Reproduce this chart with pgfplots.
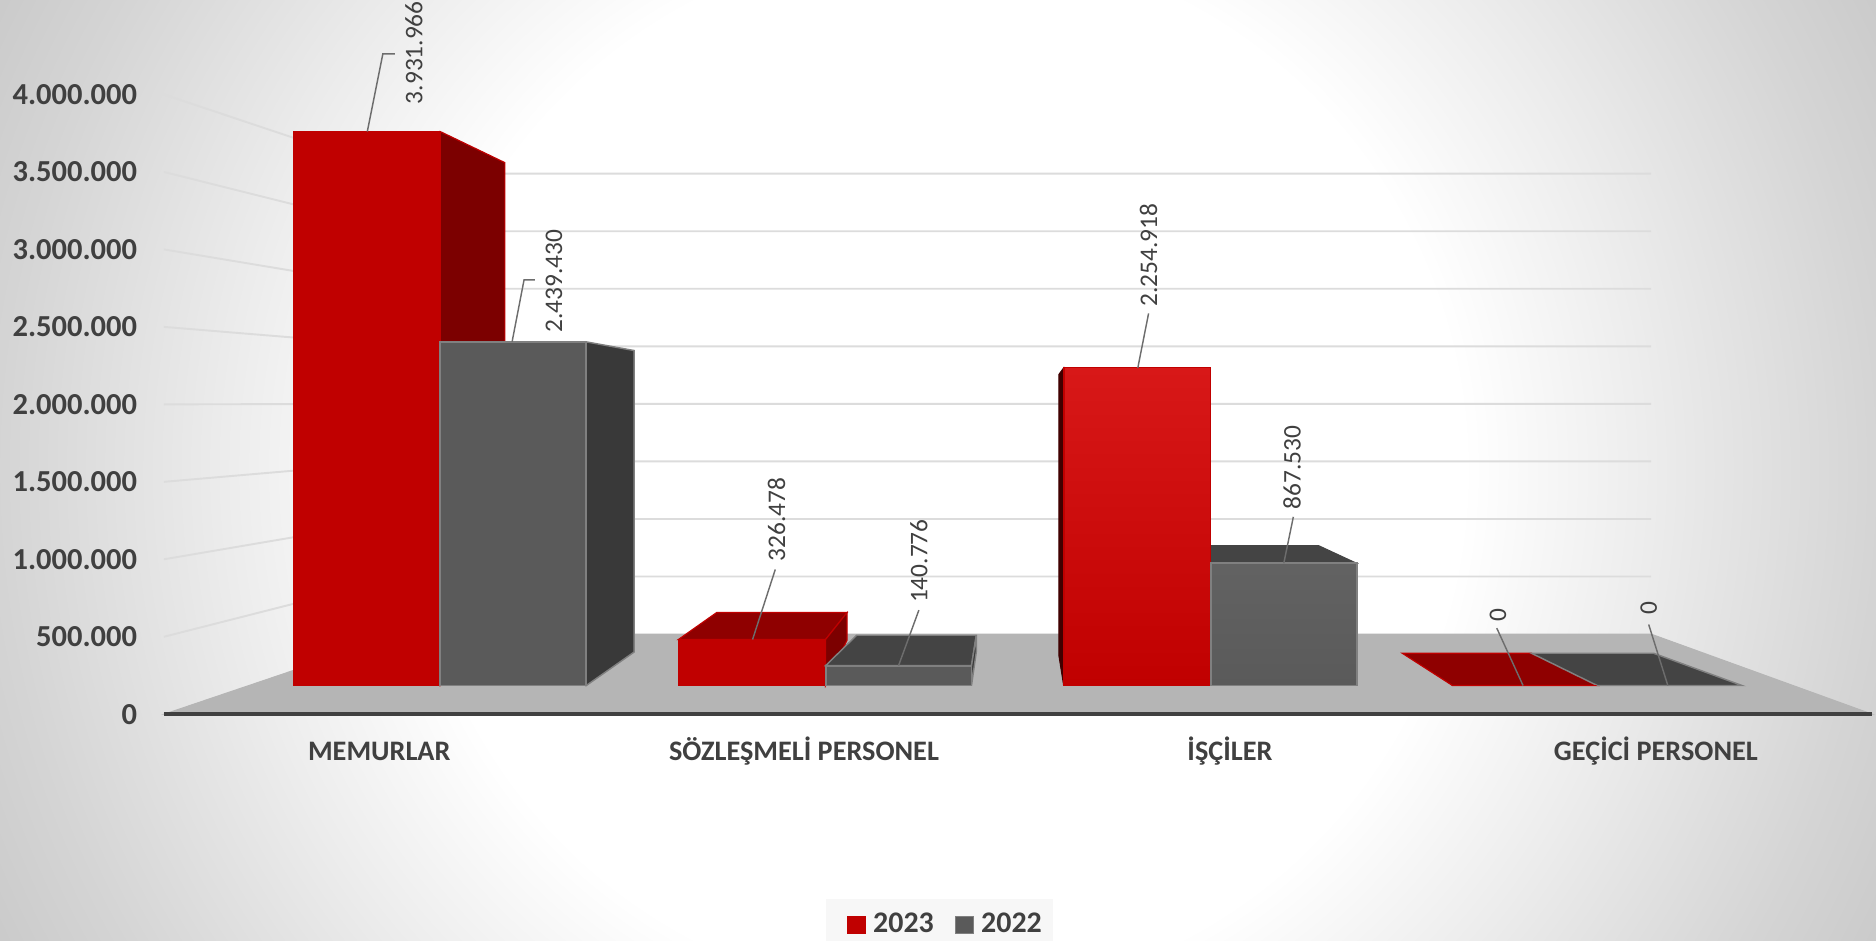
\documentclass[border=0pt]{standalone}
\usepackage{pgfplots}
\pgfplotsset{compat=1.18}
\usepackage{fontspec}
\setmainfont{Carlito}

\definecolor{txt}{HTML}{404040}
\definecolor{red23}{HTML}{C00000}
\definecolor{redhi}{HTML}{D81818}
\definecolor{redtop}{HTML}{8F0000}
\definecolor{redside}{HTML}{7C0000}
\definecolor{gray22}{HTML}{5A5A5A}
\definecolor{graytop}{HTML}{444444}
\definecolor{grayside}{HTML}{393939}
\definecolor{grayedge}{HTML}{808080}
\definecolor{gridc}{HTML}{DCDCDC}
\definecolor{floorc}{HTML}{B5B5B5}

\pgfdeclareradialshading{pagebg}{\pgfpoint{0bp}{0bp}}{
  color(0bp)=(white); color(14bp)=(white); color(19bp)=(rgb:white,100;black,8);
  color(25bp)=(rgb:white,100;black,20); color(29bp)=(rgb:white,100;black,28); color(35bp)=(rgb:white,100;black,28)}

\pgfplotsset{
  chartbox/.style={
    at={(68.5pt,94.35pt)}, anchor=south west,
    scale only axis, width=714pt, height=259pt,
    xmin=137, xmax=1565, clip=false,
  },
  face/.style={forget plot, fill=#1, draw=#1, line width=0.4pt},
  redface/.style={forget plot, fill=#1, draw=red23, line width=0.5pt},
  grayface/.style={forget plot, fill=#1, draw=grayedge, line width=0.6pt},
  bar23/.style={forget plot, ybar, bar shift=0pt, bar width=61.25pt, fill=red23, draw=red23, line width=0.5pt},
  bar22/.style={forget plot, ybar, bar shift=0pt, bar width=61pt, fill=gray22, draw=grayedge, line width=0.8pt},
  leader/.style={forget plot, draw=grayedge!85!black, line width=0.6pt},
}

\begin{document}
\begin{tikzpicture}
\useasboundingbox (0,0) rectangle (784pt,392.84pt);
\clip (0,0) rectangle (784pt,392.84pt);
\shade[shading=pagebg] (0pt,-195.58pt) rectangle (784pt,588.42pt);

% floor, wall grid and the real value scale
\begin{axis}[
  chartbox,
  ymin=0, ymax=4000000,
  axis on top,
  axis x line=bottom, axis y line=left,
  x axis line style={draw=txt, line width=1.5pt, -},
  y axis line style={draw=none},
  major tick length=0pt,
  ytick={0,500000,...,4000000},
  scaled y ticks=false,
  /pgf/number format/.cd, fixed, precision=0, 1000 sep={.}, assume math mode=true,
  /pgfplots/.cd,
  yticklabel style={font=\fontsize{12.75}{14}\selectfont\bfseries, text=txt, anchor=east, inner sep=0pt, xshift=-11pt},
  xtick={317,672,1028,1384},
  xticklabels={MEMURLAR,SÖZLEŞMELİ PERSONEL,İŞÇİLER,GEÇİCİ PERSONEL},
  xticklabel style={font=\fontsize{11.8}{13}\selectfont\bfseries, text=txt, anchor=center, yshift=-15.5pt},
]
\addplot[face=floorc] coordinates {(137,0) (335,517375) (1380,517375) (1565,0)} --cycle;
\addplot[forget plot, draw=gridc, line width=0.8pt, unbounded coords=jump] table {
x y
137 4000000
335 3488807
1380 3488807
nan nan
137 3500000
335 3117378
1380 3117378
nan nan
137 3000000
335 2745949
1380 2745949
nan nan
137 2500000
335 2374520
1380 2374520
nan nan
137 2000000
335 2003091
1380 2003091
nan nan
137 1500000
335 1631662
1380 1631662
nan nan
137 1000000
335 1260233
1380 1260233
nan nan
137 500000
335 888804
1380 888804
};
\end{axis}

% bars: front faces carry the values, y is measured from the bars' own base
\begin{axis}[
  chartbox,
  ymin=-203822, ymax=4195329,
  hide axis,
  legend style={at={(0.4538,-0.340)}, anchor=center, draw=none, fill=white!97!black,
    legend columns=2, font=\fontsize{12.5}{14}\selectfont\bfseries, text=txt,
    /tikz/every even column/.style={column sep=0.5pt}, inner xsep=2.5pt, inner ysep=4pt},
  legend image code/.code={\path (-6.5pt,0pt) (8.4pt,0pt);\fill[#1] (0pt,-3.7pt) rectangle (7.4pt,3.7pt);\draw[#1] (0pt,-3.7pt) rectangle (7.4pt,3.7pt);},
]
\addlegendimage{fill=red23, draw=red23}
\addlegendentry{2023}
\addlegendimage{fill=gray22, draw=grayedge}
\addlegendentry{2022}

% MEMURLAR
\addplot[redface=redside] coordinates {(368,3931966) (422,3711266) (422,365182) (368,0)} --cycle;
\addplot[bar23] coordinates {(306.5,3931966)};
\addplot[grayface=grayside] coordinates {(490,2439430) (530,2377928) (530,237793) (490,0)} --cycle;
\addplot[bar22] coordinates {(428.5,2439430)};
% SOZLESMELI PERSONEL
\addplot[redface=redtop] coordinates {(567,326478) (599,518049) (708,518049) (690,326478)} --cycle;
\addplot[redface=redside] coordinates {(690,326478) (708,518049) (708,322719) (690,0)} --cycle;
\addplot[bar23] coordinates {(628.5,326478)};
\addplot[grayface=graytop] coordinates {(690,140776) (716,356689) (816,356689) (812,140776)} --cycle;
\addplot[grayface=grayside] coordinates {(812,140776) (816,356689) (816,237793) (812,0)} --cycle;
\addplot[bar22] coordinates {(751,140776)};
% ISCILER
\addplot[face=graytop] coordinates {(1012,867530) (1012,993634) (1102,993634) (1134,867530)} --cycle;
\addplot[face=black!75!red] coordinates {(889,2254918) (885,2208076) (885,212315) (889,0)} --cycle;
\addplot[bar23, top color=redhi, bottom color=red23, draw=red23] coordinates {(950.5,2254918)};
\addplot[bar22, top color=gray22!95!white, bottom color=gray22] coordinates {(1073,867530)};
% GECICI PERSONEL
\addplot[redface=redtop] coordinates {(1172,229300) (1280,229300) (1335,0) (1214,0)} --cycle;
\addplot[grayface=graytop] coordinates {(1280,229300) (1382,229300) (1456,0) (1335,0)} --cycle;
\addplot[bar23] coordinates {(1274.5,0)};
\addplot[bar22] coordinates {(1395.5,0)};

% leader lines
\addplot[leader] coordinates {(307,3931966) (320,4484093) (330,4484093)};
\addplot[leader] coordinates {(428,2439430) (438,2878991) (447,2878991)};
\addplot[leader] coordinates {(629,326478) (648,823782)};
\addplot[leader] coordinates {(751,140776) (768,535034)};
\addplot[leader] coordinates {(951,2254918) (960,2641199)};
\addplot[leader] coordinates {(1073,867530) (1081,1197457)};
\addplot[leader] coordinates {(1273,0) (1251,407645)};
\addplot[leader] coordinates {(1394,0) (1378,433123)};

% data labels
\addplot[forget plot, draw=none, mark=none, nodes near coords,
  point meta=explicit symbolic,
  every node near coord/.append style={rotate=90, anchor=center, inner sep=0pt,
    font=\fontsize{10.6}{12}\selectfont, text=txt}]
  table[meta=label] {
x y label
346 4492000 3.931.966
463 2870000 2.439.430
649 1180000 326.478
768 883000 140.776
960 3057000 2.254.918
1080 1546000 867.530
1252 501063 0
1378 552019 0
};
\end{axis}
\end{tikzpicture}
\end{document}
